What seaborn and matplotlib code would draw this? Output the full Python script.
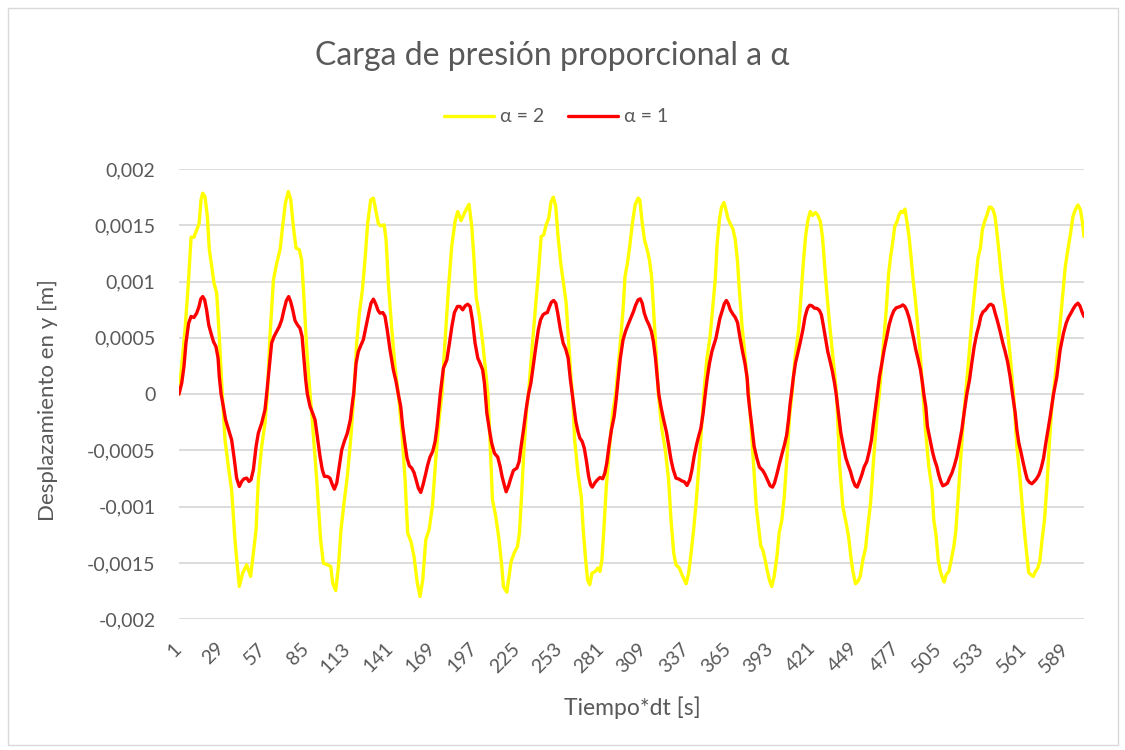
import numpy as np
import pandas as pd
import matplotlib
matplotlib.use('Agg')
import matplotlib.pyplot as plt
from matplotlib.patches import Rectangle
from matplotlib.ticker import FuncFormatter, FixedLocator
import seaborn as sns

# valores (desplazamiento en mm, se pasan a m abajo)
t_a2 = [1, 5.0, 7.2, 9.0, 10.9, 12.7, 14.3, 15.6, 16.7, 18.2, 19.8, 21.1, 22.7, 24.2, 26.0, 27.7, 29.3,
        31.5, 33.7, 35.9, 38.1, 39.7, 41.0, 43.2, 45.9, 48.5, 50.3, 52.1, 53.6, 55.8, 58.0, 59.6,
        61.3, 63.6, 65.8, 68.0, 69.7, 71.5, 73.5, 75.1, 76.8, 78.6, 80.8, 82.3, 83.9, 85.7, 87.9,
        89.0, 92.3, 94.9, 96.7, 99.4, 101.6, 102.9, 104.9, 106.7, 108.4, 110.4, 112.6, 114.8, 117.0,
        118.8, 120.6, 122.6, 124.3, 126.1, 128.1, 129.9, 131.4, 133.2, 134.7, 137.0, 138.3, 139.8, 142.1, 144.2, 146.4,
        148.7, 150.9, 152.6, 154.8, 156.8, 159.0, 160.8, 162.6, 164.6, 166.8, 169.0, 171.2, 173.6, 175.4,
        177.0, 179.6, 181.8, 184.0, 185.8, 188.0, 190.7, 193.3, 195.1, 196.6, 198.0, 200.2, 202.4, 204.6, 205.8,
        207.4, 208.8, 211.0, 213.2, 215.0, 216.1, 218.3, 219.8, 221.2, 223.2, 225.4, 226.7, 228.1, 229.8, 231.6, 232.7,
        235.0, 237.2, 239.3, 241.1, 242.8, 244.4, 246.1, 247.7, 249.2, 250.8, 252.1, 254.1, 255.9, 257.7, 259.2, 261.0, 261.9,
        263.3, 265.5, 267.7, 269.0, 270.6, 271.9, 273.3, 274.8, 277.0, 278.6, 280.1, 281.4, 282.8, 284.3, 286.3, 288.5, 290.5,
        293.2, 295.4, 296.7, 298.3, 299.8, 301.6, 303.4, 305.4, 306.5, 308.1, 309.6, 311.4, 312.9, 314.3, 315.6, 317.2, 318.8,
        321.2, 323.4, 325.6, 327.2, 329.0, 330.5, 332.7, 334.5, 337.2, 338.9, 340.5, 342.2, 344.0, 345.8, 347.8, 348.9,
        350.9, 353.1, 354.9, 356.5, 357.8, 359.4, 360.7, 362.3, 363.6, 364.9, 366.5, 368.3, 369.8, 371.2, 372.5, 374.3, 376.1, 377.7, 378.8,
        381.9, 383.7, 385.2, 386.8, 388.0, 389.6, 391.1, 392.7, 394.0, 395.6, 397.4, 398.9, 400.7, 402.3, 404.1, 405.8, 407.4,
        409.5, 411.8, 413.5, 414.9, 416.4, 418.0, 419.5, 421.1, 422.9, 424.4, 426.2, 427.6, 429.1, 430.7, 432.5, 434.3, 436.1, 437.0,
        438.9, 441.1, 443.3, 444.9, 446.4, 447.8, 449.5, 451.1, 452.6, 454.4, 456.2, 457.7, 459.5, 461.5, 463.7, 465.3,
        467.7, 469.9, 471.5, 472.8, 474.1, 475.5, 477.0, 478.4, 479.7, 481.0, 482.3, 483.6, 485.0, 486.3, 487.7, 489.2, 490.8, 492.5, 494.3,
        495.9, 498.1, 500.3, 501.4, 503.0, 504.3, 505.8, 507.2, 508.3, 509.6, 511.4, 513.0, 514.7, 516.1, 517.4, 519.2, 521.0, 522.5,
        524.7, 526.9, 529.1, 530.7, 532.3, 533.6, 535.1, 536.7, 538.2, 539.4, 540.7, 542.0, 543.2, 544.5, 545.8, 547.4, 549.0, 550.5, 552.1, 553.6, 554.3,
        556.5, 558.7, 560.1, 561.6, 563.0, 564.3, 565.9, 567.4, 568.8, 570.3, 571.7, 573.2, 574.8, 576.4, 577.9, 579.7, 580.6,
        582.6, 584.8, 587.0, 588.6, 590.3, 592.1, 593.7, 595.2, 597.0, 598.6, 599.9, 601]
y_a2 = [0, 0.571, 0.986, 1.394, 1.394, 1.459, 1.513, 1.726, 1.785, 1.755, 1.578, 1.282, 1.134, 0.986, 0.897, 0.512, 0.098,
        -0.406, -0.642, -0.850, -1.294, -1.530, -1.708, -1.590, -1.516, -1.619, -1.412, -1.205, -0.761, -0.465, -0.258, 0,
        0.512, 1.015, 1.163, 1.282, 1.489, 1.696, 1.800, 1.726, 1.489, 1.297, 1.282, 1.193, 0.838, 0.394, 0,
        -0.169, -0.761, -1.294, -1.501, -1.516, -1.530, -1.679, -1.744, -1.530, -1.205, -0.968, -0.731, -0.406, 0,
        0.453, 0.719, 0.927, 1.193, 1.519, 1.726, 1.741, 1.637, 1.513, 1.495, 1.504, 1.371, 0.986, 0.571, 0.246, 0,
        -0.317, -0.761, -1.234, -1.309, -1.442, -1.678, -1.797, -1.649, -1.294, -1.205, -0.998, -0.583, -0.198, 0,
        0.394, 0.927, 1.311, 1.533, 1.622, 1.542, 1.622, 1.687, 1.489, 1.193, 0.867, 0.690, 0.453, 0.157, 0,
        -0.465, -0.938, -1.086, -1.294, -1.530, -1.708, -1.759, -1.619, -1.486, -1.412, -1.353, -1.234, -0.909, -0.465, -0.110, 0,
        0.394, 0.749, 1.075, 1.400, 1.415, 1.504, 1.563, 1.711, 1.750, 1.667, 1.430, 1.163, 0.986, 0.808, 0.483, 0.127, 0,
        -0.406, -0.702, -0.909, -1.205, -1.471, -1.649, -1.693, -1.590, -1.575, -1.545, -1.575, -1.471, -1.175, -0.820, -0.494, -0.169, 0,
        0.394, 0.749, 1.045, 1.163, 1.311, 1.519, 1.681, 1.741, 1.726, 1.519, 1.371, 1.282, 1.193, 1.045, 0.749, 0.394, 0,
        -0.317, -0.494, -0.761, -1.116, -1.412, -1.516, -1.545, -1.605, -1.684, -1.590, -1.412, -1.205, -0.938, -0.613, -0.228, 0,
        0.305, 0.512, 0.779, 1.015, 1.341, 1.563, 1.661, 1.702, 1.637, 1.563, 1.513, 1.465, 1.371, 1.193, 0.927, 0.601, 0.364, 0.127, 0,
        -0.613, -0.998, -1.175, -1.353, -1.382, -1.471, -1.575, -1.664, -1.708, -1.619, -1.442, -1.234, -1.116, -0.909, -0.553, -0.198, 0,
        0.335, 0.571, 0.897, 1.163, 1.400, 1.548, 1.622, 1.587, 1.613, 1.593, 1.533, 1.400, 1.134, 0.867, 0.601, 0.364, 0.127, 0,
        -0.613, -0.998, -1.145, -1.264, -1.442, -1.575, -1.684, -1.664, -1.619, -1.471, -1.368, -1.175, -0.968, -0.583, -0.198, 0,
        0.394, 0.749, 1.075, 1.223, 1.341, 1.489, 1.533, 1.593, 1.622, 1.613, 1.643, 1.533, 1.400, 1.223, 1.015, 0.838, 0.601, 0.335, 0,
        -0.317, -0.642, -0.850, -1.116, -1.264, -1.471, -1.575, -1.634, -1.669, -1.605, -1.575, -1.471, -1.353, -1.205, -0.938, -0.583, -0.228, 0,
        0.335, 0.690, 0.986, 1.208, 1.297, 1.459, 1.533, 1.593, 1.661, 1.661, 1.637, 1.578, 1.445, 1.282, 1.104, 0.897, 0.749, 0.542, 0.335, 0.098, 0,
        -0.465, -0.761, -0.998, -1.234, -1.412, -1.584, -1.605, -1.619, -1.575, -1.545, -1.486, -1.294, -1.116, -0.820, -0.465, -0.110, 0,
        0.246, 0.571, 0.897, 1.134, 1.282, 1.430, 1.578, 1.637, 1.681, 1.637, 1.533, 1.400]

t_a1 = [1, 2.8, 4.3, 5.6, 7.4, 9.0, 10.9, 12.7, 14.3, 15.4, 16.7, 18.0, 19.3, 20.7, 22.2, 23.8, 25.5, 26.9, 27.7, 28.9,
        30.4, 31.9, 34.2, 35.9, 37.7, 39.2, 41.0, 42.6, 44.1, 45.9, 47.4, 48.7, 50.3, 52.1, 53.6, 55.8, 58.0, 59.1,
        60.9, 62.4, 64.0, 65.8, 67.5, 69.1, 70.6, 72.2, 73.7, 75.0, 76.4, 77.9, 79.5, 81.2, 82.6, 83.7, 85.0, 86.1,
        87.9, 89.6, 91.2, 92.7, 94.5, 96.0, 97.4, 99.4, 101.1, 102.7, 104.0, 105.6, 107.1, 108.9, 110.6, 112.6, 114.6, 116.2, 116.8,
        118.4, 119.9, 121.7, 123.2, 125.0, 126.8, 128.3, 129.9, 131.4, 133.0, 134.3, 136.1, 137.6, 139.2, 140.9, 143.1, 144.9, 146.4,
        148.0, 149.3, 150.9, 152.2, 153.7, 155.3, 156.8, 158.2, 159.7, 161.3, 162.8, 164.4, 165.9, 167.4, 169.2, 170.8, 172.1, 173.4, 174.2,
        176.3, 178.6, 180.3, 181.9, 183.6, 185.6, 187.3, 189.1, 190.7, 192.4, 194.0, 195.5, 197.3, 199.1, 200.6, 202.3, 203.5,
        205.1, 206.8, 208.3, 210.1, 212.3, 213.9, 215.2, 216.6, 217.9, 219.5, 221.0, 222.7, 225.0, 226.5, 227.8, 229.4, 231.1, 232.7,
        234.3, 236.1, 237.6, 239.2, 240.7, 242.3, 243.8, 245.2, 246.5, 247.9, 249.4, 250.8, 252.1, 253.9, 255.7, 257.4, 259.0, 260.5, 261.7,
        262.8, 264.1, 265.5, 266.8, 268.3, 269.7, 271.0, 272.6, 273.9, 275.0, 276.6, 278.4, 280.1, 281.9, 283.3, 284.6, 286.2, 287.7, 289.5, 290.8,
        292.1, 293.6, 295.4, 297.0, 298.7, 300.5, 302.3, 303.8, 305.4, 306.8, 308.1, 309.5, 311.0, 312.6, 314.2, 315.5, 316.9, 318.2, 319.1,
        320.5, 322.3, 324.1, 325.6, 327.2, 328.7, 330.5, 332.5, 334.3, 336.1, 337.8, 339.6, 341.0, 342.5, 344.1, 345.6, 347.0, 348.5, 349.9,
        351.2, 352.7, 354.3, 355.6, 357.0, 358.3, 359.6, 361.2, 362.5, 363.9, 365.2, 366.5, 368.1, 369.7, 371.3, 372.8, 374.6, 376.2, 377.7, 378.3,
        379.2, 380.8, 382.3, 384.1, 385.8, 388.0, 389.6, 391.1, 392.9, 394.5, 395.8, 397.3, 398.9, 400.6, 402.4, 403.9, 405.1, 406.2, 407.0,
        408.4, 409.7, 411.2, 413.0, 414.6, 416.1, 417.7, 419.2, 420.7, 422.3, 424.1, 425.6, 426.9, 428.3, 429.6, 431.1, 432.7, 434.2, 435.6, 436.7,
        438.2, 439.8, 441.5, 443.1, 444.6, 446.2, 447.7, 449.3, 450.6, 452.1, 453.7, 455.2, 457.0, 458.6, 460.1, 461.4, 462.8, 463.9,
        465.4, 467.0, 468.5, 470.3, 471.8, 473.4, 474.9, 476.5, 478.0, 479.3, 480.9, 482.2, 483.5, 485.1, 486.4, 488.0, 489.5, 491.1, 492.6, 493.9, 494.8,
        496.1, 497.2, 499.0, 500.5, 501.9, 503.4, 504.7, 506.1, 507.4, 508.9, 510.5, 511.8, 513.4, 514.9, 516.7, 518.4, 520.0, 521.5, 523.3,
        525.1, 526.6, 528.2, 530.0, 531.3, 532.6, 534.0, 535.3, 536.6, 537.9, 539.2, 540.8, 542.1, 543.7, 545.4, 547.2, 548.7, 550.3, 552.0, 553.6,
        555.4, 556.5, 557.8, 559.1, 560.5, 562.0, 563.3, 564.9, 566.4, 568.0, 569.5, 571.1, 572.6, 574.2, 575.5, 576.8, 578.6, 580.1, 580.8,
        583.0, 585.2, 587.4, 589.2, 590.7, 592.3, 594.1, 595.4, 597.0, 598.3, 599.6, 601]
y_a1 = [0, 0.098, 0.246, 0.453, 0.631, 0.690, 0.681, 0.719, 0.779, 0.844, 0.867, 0.838, 0.749, 0.616, 0.542, 0.468, 0.423, 0.320, 0.157, 0,
        -0.110, -0.228, -0.332, -0.406, -0.583, -0.746, -0.820, -0.775, -0.752, -0.746, -0.775, -0.761, -0.672, -0.465, -0.346, -0.258, -0.139, 0,
        0.246, 0.453, 0.512, 0.557, 0.601, 0.660, 0.749, 0.832, 0.867, 0.823, 0.749, 0.654, 0.616, 0.586, 0.512, 0.335, 0.127, 0,
        -0.110, -0.169, -0.228, -0.376, -0.554, -0.672, -0.731, -0.731, -0.746, -0.805, -0.844, -0.790, -0.657, -0.494, -0.420, -0.346, -0.228, -0.050, 0,
        0.275, 0.379, 0.438, 0.483, 0.601, 0.719, 0.808, 0.844, 0.802, 0.743, 0.719, 0.725, 0.690, 0.557, 0.394, 0.216, 0.112, 0,
        -0.110, -0.287, -0.450, -0.568, -0.636, -0.657, -0.696, -0.761, -0.835, -0.873, -0.805, -0.716, -0.628, -0.559, -0.509, -0.420, -0.287, -0.110, 0,
        0.231, 0.305, 0.453, 0.601, 0.725, 0.779, 0.779, 0.749, 0.784, 0.799, 0.779, 0.660, 0.453, 0.320, 0.275, 0.216, 0.098,
        -0.169, -0.317, -0.435, -0.524, -0.559, -0.642, -0.731, -0.805, -0.867, -0.814, -0.746, -0.678, -0.657, -0.598, -0.465, -0.317, -0.139, 0,
        0.098, 0.275, 0.423, 0.571, 0.660, 0.705, 0.719, 0.725, 0.773, 0.817, 0.832, 0.808, 0.719, 0.571, 0.453, 0.400, 0.320, 0.127, 0,
        -0.110, -0.243, -0.332, -0.391, -0.420, -0.480, -0.583, -0.731, -0.805, -0.826, -0.790, -0.761, -0.740, -0.752, -0.702, -0.613, -0.450, -0.317, -0.198, -0.050,
        0.127, 0.320, 0.483, 0.557, 0.616, 0.675, 0.734, 0.793, 0.838, 0.847, 0.808, 0.719, 0.660, 0.616, 0.557, 0.468, 0.320, 0.127, 0,
        -0.110, -0.228, -0.332, -0.450, -0.583, -0.672, -0.746, -0.755, -0.770, -0.779, -0.811, -0.761, -0.678, -0.554, -0.450, -0.370, -0.302, -0.169, 0,
        0.142, 0.275, 0.379, 0.438, 0.497, 0.586, 0.675, 0.743, 0.802, 0.832, 0.802, 0.749, 0.713, 0.684, 0.636, 0.512, 0.379, 0.275, 0.142, 0,
        -0.110, -0.287, -0.465, -0.568, -0.648, -0.678, -0.716, -0.761, -0.814, -0.826, -0.790, -0.716, -0.628, -0.539, -0.450, -0.361, -0.228, -0.080, 0,
        0.157, 0.275, 0.364, 0.468, 0.571, 0.690, 0.764, 0.790, 0.784, 0.764, 0.761, 0.743, 0.705, 0.601, 0.497, 0.379, 0.290, 0.201, 0.098, 0,
        -0.169, -0.346, -0.465, -0.568, -0.628, -0.687, -0.761, -0.814, -0.826, -0.776, -0.716, -0.648, -0.598, -0.509, -0.405, -0.258, -0.110, 0,
        0.157, 0.275, 0.394, 0.512, 0.616, 0.690, 0.740, 0.767, 0.773, 0.779, 0.793, 0.779, 0.743, 0.675, 0.601, 0.497, 0.394, 0.305, 0.216, 0.098, 0,
        -0.110, -0.287, -0.406, -0.509, -0.583, -0.642, -0.716, -0.776, -0.814, -0.805, -0.790, -0.746, -0.702, -0.642, -0.554, -0.435, -0.317, -0.169, 0,
        0.127, 0.275, 0.423, 0.542, 0.607, 0.690, 0.731, 0.743, 0.764, 0.790, 0.799, 0.784, 0.719, 0.645, 0.557, 0.453, 0.379, 0.290, 0.157, 0,
        -0.169, -0.317, -0.435, -0.509, -0.598, -0.687, -0.755, -0.784, -0.796, -0.776, -0.752, -0.716, -0.657, -0.568, -0.450, -0.346, -0.198, -0.065, 0,
        0.157, 0.394, 0.542, 0.631, 0.681, 0.719, 0.764, 0.790, 0.808, 0.784, 0.734, 0.690]

series_names = ['α = 2', 'α = 1']
series_colors = ['#FFFF00', '#FF0000']
x_ticks = list(range(1, 590, 28))
y_ticks = [-0.002, -0.0015, -0.001, -0.0005, 0, 0.0005, 0.001, 0.0015, 0.002]

df = pd.concat([
    pd.DataFrame({'t': t_a2, 'y': np.array(y_a2) * 1e-3, 'serie': series_names[0]}),
    pd.DataFrame({'t': t_a1, 'y': np.array(y_a1) * 1e-3, 'serie': series_names[1]}),
])

sns.set_style('white')
plt.rcParams['font.family'] = ['Lato', 'DejaVu Sans']
gris = '#595959'

fig = plt.figure(figsize=(11.25, 7.5), dpi=100)
ax = fig.add_axes([179 / 1125, 1 - 619.3 / 750, 905 / 1125, 450.3 / 750])

sns.lineplot(data=df, x='t', y='y', hue='serie', hue_order=series_names,
             palette=series_colors, linewidth=2.4, estimator=None, sort=False,
             ax=ax, legend=False)

ax.set_xlim(1, 601)
ax.set_ylim(-0.002, 0.002)
ax.yaxis.set_major_locator(FixedLocator(y_ticks))
ax.yaxis.set_major_formatter(FuncFormatter(lambda v, p: f'{round(v, 6):g}'.replace('.', ',') if abs(v) > 1e-9 else '0'))
ax.set_xticks(x_ticks)
ax.set_xticklabels([str(t) for t in x_ticks])
ax.yaxis.grid(True, color='#d9d9d9', linewidth=1.3)
ax.xaxis.grid(False)
ax.set_axisbelow(True)
for s in ax.spines.values():
    s.set_visible(False)
ax.tick_params(axis='y', length=0, pad=17, labelsize=14, labelcolor=gris)
ax.tick_params(axis='x', length=0, pad=19, labelsize=14, labelcolor=gris)
for lbl in ax.get_xticklabels():
    lbl.set_rotation(45)
    lbl.set_ha('right')
    lbl.set_va('center')
    lbl.set_rotation_mode('anchor')
ax.set_xlabel('')
ax.set_ylabel('')

fig.text(552 / 1125, 1 - 65 / 750, 'Carga de presión proporcional a α', ha='center', va='baseline',
         fontsize=23, color=gris)
fig.text(48 / 1125, 1 - 400 / 750, 'Desplazamiento en y [m]', rotation=90, ha='center', va='center',
         fontsize=16, color=gris)
fig.text(632 / 1125, 1 - 708 / 750, 'Tiempo*dt [s]', ha='center', va='center', fontsize=16.5, color=gris)

handles = [plt.Line2D([], [], color=c, linewidth=2.4) for c in series_colors]
leg = fig.legend(handles, series_names, loc='center', bbox_to_anchor=(556 / 1125, 1 - 117 / 750),
                 ncol=2, frameon=False, fontsize=14, handlelength=2.6, handletextpad=0.3,
                 columnspacing=1.2, labelcolor=gris)

fig.add_artist(Rectangle((8 / 1125, 5 / 750), 1110 / 1125, 737 / 750, transform=fig.transFigure,
                         fill=False, edgecolor='#d9d9d9', linewidth=1))

fig.savefig('out.png', dpi=100)
